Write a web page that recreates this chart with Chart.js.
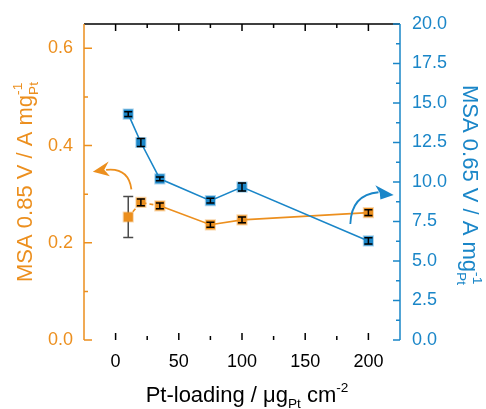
<!DOCTYPE html>
<html>
<head>
<meta charset="utf-8">
<script src="https://cdn.jsdelivr.net/npm/chart.js@4.4.1/dist/chart.umd.min.js"></script>
<style>body{margin:0;background:#fff}</style>
</head>
<body>
<canvas id="msa-chart" width="486" height="409"></canvas>
<script>
// Pt loading (ug_Pt cm^-2) and mass activities
const loading = [10, 20, 35, 75, 100, 200];
const msa085 = [0.253, 0.283, 0.276, 0.237, 0.247, 0.262];
const msa085Err = [0.042, 0.007, 0.006, 0.005, 0.006, 0.006];
const msa065 = [14.3, 12.5, 10.2, 8.82, 9.68, 6.27];
const msa065Err = [0.15, 0.25, 0.12, 0.15, 0.25, 0.2];

// tick values
const xMajor = [0, 50, 100, 150, 200];
const xMinor = [25, 75, 125, 175];
const leftMajor = [0, 0.2, 0.4, 0.6];
const leftMinor = [0.1, 0.3, 0.5];
const rightMajor = [0, 2.5, 5, 7.5, 10, 12.5, 15, 17.5, 20];
const rightMinor = [1.25, 3.75, 6.25, 8.75, 11.25, 13.75, 16.25, 18.75];

const ORANGE = '#EC8F1E';
const BLUE = '#1A86C8';
const FONT = '"Liberation Sans", Arial, sans-serif';

const canvas = document.getElementById('msa-chart');

// error bars: big ones go under the markers, small ones on top
function drawErrors(chart, under) {
  const ctx = chart.ctx;
  chart.data.datasets.forEach((ds, i) => {
    const meta = chart.getDatasetMeta(i);
    const yScale = chart.scales[ds.yAxisID];
    ds.errors.forEach((err, j) => {
      const pt = meta.data[j];
      const top = yScale.getPixelForValue(ds.data[j].y + err);
      const bot = yScale.getPixelForValue(ds.data[j].y - err);
      const big = (bot - top) / 2 > 6;
      if (big !== under) return;
      const cap = big ? 5 : 4;
      ctx.save();
      ctx.strokeStyle = big ? '#4a4a4a' : '#000';
      ctx.lineWidth = 1.5;
      ctx.beginPath();
      ctx.moveTo(pt.x, top); ctx.lineTo(pt.x, bot);
      ctx.moveTo(pt.x - cap, top); ctx.lineTo(pt.x + cap, top);
      ctx.moveTo(pt.x - cap, bot); ctx.lineTo(pt.x + cap, bot);
      ctx.stroke();
      ctx.restore();
    });
  });
}

const errorBars = {
  id: 'errorBars',
  beforeDatasetsDraw(chart) { drawErrors(chart, true); },
  afterDatasetsDraw(chart) { drawErrors(chart, false); }
};

// inward tick marks + top frame line
const frame = {
  id: 'frame',
  afterDraw(chart) {
    const ctx = chart.ctx;
    const a = chart.chartArea;
    const { x, yL, yR } = chart.scales;
    ctx.save();
    ctx.lineWidth = 1.5;
    ctx.strokeStyle = '#000';
    ctx.beginPath();
    ctx.moveTo(a.left, a.top); ctx.lineTo(a.right, a.top);
    xMajor.concat(xMinor).forEach(v => {
      const len = xMajor.includes(v) ? 7 : 4;
      const px = x.getPixelForValue(v);
      ctx.moveTo(px, a.bottom); ctx.lineTo(px, a.bottom - len);
      ctx.moveTo(px, a.top); ctx.lineTo(px, a.top + len);
    });
    ctx.stroke();
    ctx.strokeStyle = ORANGE;
    ctx.beginPath();
    ctx.moveTo(a.left, a.top); ctx.lineTo(a.left, a.bottom);
    leftMajor.concat(leftMinor).forEach(v => {
      const len = leftMajor.includes(v) ? 8 : 4;
      const py = yL.getPixelForValue(v);
      ctx.moveTo(a.left, py); ctx.lineTo(a.left + len, py);
    });
    ctx.stroke();
    ctx.strokeStyle = BLUE;
    ctx.beginPath();
    ctx.moveTo(a.right, a.top); ctx.lineTo(a.right, a.bottom);
    rightMajor.concat(rightMinor).forEach(v => {
      const len = rightMajor.includes(v) ? 7 : 4;
      const py = yR.getPixelForValue(v);
      ctx.moveTo(a.right, py); ctx.lineTo(a.right - len, py);
    });
    ctx.stroke();
    ctx.restore();
  }
};

// text with sub/superscripts, centred on (0,0) baseline
function richText(ctx, parts, size, color) {
  const small = size * 0.62;
  let total = 0;
  parts.forEach(p => {
    if (p.n) { ctx.font = size + 'px ' + FONT; p.w = ctx.measureText(p.n).width; }
    else {
      ctx.font = small + 'px ' + FONT;
      p.w = Math.max(p.sup ? ctx.measureText(p.sup).width : 0, p.sub ? ctx.measureText(p.sub).width : 0);
    }
    total += p.w;
  });
  let cx = -total / 2;
  ctx.fillStyle = color;
  ctx.textBaseline = 'alphabetic';
  ctx.textAlign = 'left';
  parts.forEach(p => {
    if (p.n) { ctx.font = size + 'px ' + FONT; ctx.fillText(p.n, cx, 0); }
    else {
      ctx.font = small + 'px ' + FONT;
      if (p.sup) ctx.fillText(p.sup, cx, -size * 0.45);
      if (p.sub) ctx.fillText(p.sub, cx, size * 0.28);
    }
    cx += p.w;
  });
}

const titles = {
  id: 'titles',
  afterDraw(chart) {
    const ctx = chart.ctx;
    ctx.save();
    ctx.translate(247, 402);
    richText(ctx, [{ n: 'Pt-loading / \u03bcg' }, { sub: 'Pt' }, { n: ' cm' }, { sup: '-2' }], 22, '#000');
    ctx.restore();
    ctx.save();
    ctx.translate(32, 182);
    ctx.rotate(-Math.PI / 2);
    richText(ctx, [{ n: 'MSA 0.85 V / A mg' }, { sup: '-1', sub: 'Pt' }], 22, ORANGE);
    ctx.restore();
    ctx.save();
    ctx.translate(463, 185);
    ctx.rotate(Math.PI / 2);
    richText(ctx, [{ n: 'MSA 0.65 V / A mg' }, { sup: '-1', sub: 'Pt' }], 22, BLUE);
    ctx.restore();
  }
};

// curved arrows pointing at each axis (data units)
const arrows = {
  id: 'arrows',
  afterDraw(chart) {
    const ctx = chart.ctx;
    const { x, yL, yR } = chart.scales;
    const draw = (ys, color, start, ctrl, end, head) => {
      const P = p => [x.getPixelForValue(p[0]), ys.getPixelForValue(p[1])];
      const s = P(start), c = P(ctrl), e = P(end);
      ctx.save();
      ctx.strokeStyle = color;
      ctx.fillStyle = color;
      ctx.lineWidth = 1.8;
      ctx.beginPath();
      ctx.moveTo(s[0], s[1]);
      ctx.quadraticCurveTo(c[0], c[1], e[0], e[1]);
      ctx.stroke();
      const h = head.map(P);
      ctx.beginPath();
      ctx.moveTo(h[0][0], h[0][1]);
      ctx.lineTo(h[1][0], h[1][1]);
      ctx.lineTo(h[2][0], h[2][1]);
      ctx.lineTo(h[3][0], h[3][1]);
      ctx.closePath();
      ctx.fill();
      ctx.restore();
    };
    draw(yL, ORANGE, [12.5, 0.310], [10.3, 0.355], [-7.5, 0.350],
      [[-18, 0.346], [-5.5, 0.367], [-9, 0.350], [-4.5, 0.337]]);
    draw(yR, BLUE, [185.7, 7.34], [186.5, 9.2], [208, 9.35],
      [[220, 9.18], [205.5, 9.8], [209, 9.3], [209.5, 8.9]]);
  }
};

const toPoints = (xs, ys) => xs.map((v, i) => ({ x: v, y: ys[i] }));

new Chart(canvas, {
  type: 'line',
  data: {
    datasets: [{
      label: 'MSA 0.65 V',
      data: toPoints(loading, msa065),
      errors: msa065Err,
      yAxisID: 'yR',
      borderColor: BLUE,
      backgroundColor: BLUE,
      borderWidth: 1.6,
      pointStyle: 'rect',
      pointRadius: 6.5,
      pointBorderWidth: 2,
      pointBorderColor: 'rgba(26,134,200,0.35)',
      pointBackgroundColor: BLUE
    }, {
      label: 'MSA 0.85 V',
      data: toPoints(loading, msa085),
      errors: msa085Err,
      yAxisID: 'yL',
      borderColor: ORANGE,
      backgroundColor: ORANGE,
      borderWidth: 1.6,
      pointStyle: 'rect',
      pointRadius: 6.5,
      pointBorderWidth: 2,
      pointBorderColor: 'rgba(236,143,30,0.35)',
      pointBackgroundColor: ORANGE,
      segment: {
        borderDash: ctx => ctx.p0DataIndex < 2 ? [4, 3] : undefined
      }
    }]
  },
  options: {
    responsive: false,
    animation: false,
    layout: { padding: { top: 24 } },
    plugins: { legend: { display: false }, tooltip: { enabled: false } },
    scales: {
      x: {
        type: 'linear',
        min: -25,
        max: 225,
        afterBuildTicks: s => { s.ticks = xMajor.map(v => ({ value: v })); },
        afterFit: s => { s.height = 69; },
        grid: { display: false, drawTicks: false },
        border: { display: false },
        ticks: { color: '#000', padding: 11, font: { family: FONT, size: 18 } }
      },
      yL: {
        type: 'linear',
        position: 'left',
        min: 0,
        max: 0.65,
        afterBuildTicks: s => { s.ticks = leftMajor.map(v => ({ value: v })); },
        afterFit: s => { s.width = 84; },
        grid: { display: false, drawTicks: false },
        border: { display: false },
        ticks: { color: ORANGE, padding: 11, font: { family: FONT, size: 18 }, callback: v => v.toFixed(1) }
      },
      yR: {
        type: 'linear',
        position: 'right',
        min: 0,
        max: 20,
        afterBuildTicks: s => { s.ticks = rightMajor.map(v => ({ value: v })); },
        afterFit: s => { s.width = 86; },
        grid: { display: false, drawTicks: false },
        border: { display: false },
        ticks: { color: BLUE, padding: 12, font: { family: FONT, size: 18 }, callback: v => v.toFixed(1) }
      }
    }
  },
  plugins: [errorBars, frame, titles, arrows]
});
</script>
</body>
</html>
